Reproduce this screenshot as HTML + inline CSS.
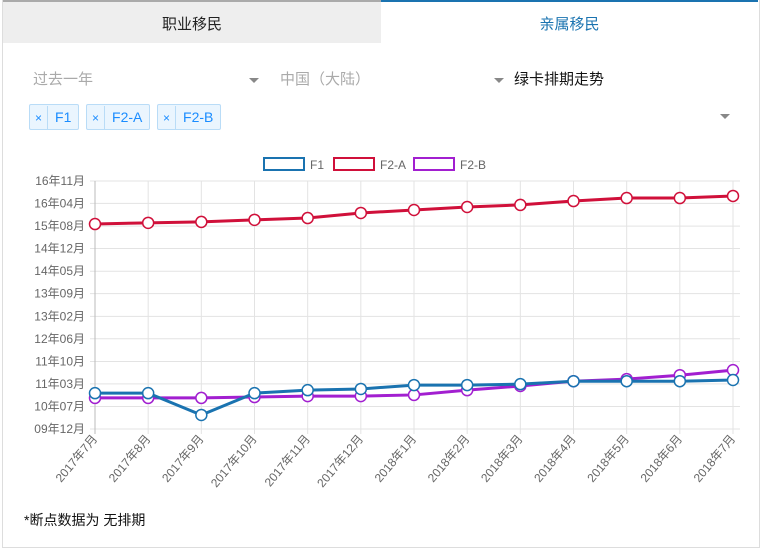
<!DOCTYPE html>
<html><head><meta charset="utf-8"><style>
body{margin:0;width:761px;height:550px;background:#fff;font-family:"Liberation Sans","Noto Sans CJK SC",sans-serif;overflow:hidden;position:relative}
.box{position:absolute;left:2px;top:0;width:756px;height:547px;border:1px solid #ddd;border-top:none}
.tab{position:absolute;top:0;height:43px;line-height:46px;text-align:center;font-size:15px}
.t1{left:3px;width:378px;background:#eee;border-top:2px solid #aaa;color:#222;box-sizing:border-box}
.t2{left:381px;width:377px;border-top:2px solid #1a73b0;color:#1a73b0;box-sizing:border-box}
.sel{position:absolute;top:68px;font-size:15px;color:#aaa}
.caret{position:absolute;width:0;height:0;border-left:5px solid transparent;border-right:5px solid transparent;border-top:5px solid #888}
.tag{position:absolute;top:104px;height:24px;border:1px solid #b9dcf7;background:#eaf5fe;color:#1a8cff;font-size:14px;line-height:24px;border-radius:2px}
.tag span{display:inline-block;padding:0 7px}
.tag .x{border-right:1px solid #b9dcf7;font-size:12px;padding:0 5px}
</style></head><body>
<div class="box"></div>
<div class="tab t1">职业移民</div>
<div class="tab t2">亲属移民</div>
<div class="sel" style="left:33px">过去一年</div>
<div class="caret" style="left:249px;top:78px"></div>
<div class="sel" style="left:280px">中国（大陆）</div>
<div class="caret" style="left:494px;top:78px"></div>
<div class="sel" style="left:514px;color:#111">绿卡排期走势</div>
<div class="tag" style="left:29px"><span class="x">×</span><span>F1</span></div>
<div class="tag" style="left:86px"><span class="x">×</span><span>F2-A</span></div>
<div class="tag" style="left:157px"><span class="x">×</span><span>F2-B</span></div>
<div class="caret" style="left:720px;top:114px"></div>
<div style="position:absolute;left:24px;top:510px;font-size:14px;color:#111">*断点数据为 无排期</div>
<svg id="chart" width="761" height="550" style="position:absolute;left:0;top:0"></svg>
<script>
const categories=["2017年7月","2017年8月","2017年9月","2017年10月","2017年11月","2017年12月","2018年1月","2018年2月","2018年3月","2018年4月","2018年5月","2018年6月","2018年7月"];
// values: months since 2009-12
const f1=[12,12,4.7,12,13,13.4,14.7,14.7,15,16,16,16,16.4];
const f2a=[68.6,69,69.3,70,70.6,72.3,73.3,74.3,75,76.3,77.3,77.3,78];
const f2b=[10.4,10.4,10.4,10.7,11,11,11.4,13,14.4,16,16.7,18,19.7];
const tickLabels=["09年12月","10年07月","11年03月","11年10月","12年06月","13年02月","13年09月","14年05月","14年12月","15年08月","16年04月","16年11月"];
const tickValues=[0,7.55,15.1,22.6,30.2,37.7,45.3,52.8,60.4,67.9,75.5,83];
const svg=document.getElementById('chart');const NS="http://www.w3.org/2000/svg";
const X0=95,X1=733,Y0=429,Y1=181,YMAX=83;
const xs=i=>X0+i*(X1-X0)/(categories.length-1);
const ys=v=>Y0-v*(Y0-Y1)/YMAX;
function mk(t,a){const e=document.createElementNS(NS,t);for(const k in a)e.setAttribute(k,a[k]);svg.appendChild(e);return e;}
tickValues.forEach((v,i)=>{
 const g=mk('line',{x1:90,x2:740,y1:ys(v),y2:ys(v),stroke:'#e3e3e3'});
 
 
 const t=mk('text',{x:85,y:ys(v)+4,'text-anchor':'end','font-size':12,fill:'#666'});
 t.textContent=tickLabels[i];
 
 
});
categories.forEach((c,i)=>{
 const g=mk('line',{x1:xs(i),x2:xs(i),y1:Y1,y2:Y0+5,stroke:i==0?'#bbb':'#e3e3e3'});
 
 
 const t=mk('text',{x:xs(i)+3,y:Y0+10,'text-anchor':'end','font-size':12,fill:'#666',transform:`rotate(-50 ${xs(i)+3} ${Y0+10})`});
 t.textContent=c;
 
 
});
const series=[["F2-A",f2a,"#d0103a"],["F2-B",f2b,"#a21fd0"],["F1",f1,"#1a73b0"]];
series.forEach(([n,d,c])=>{
 const p=mk('polyline',{points:d.map((v,i)=>xs(i)+','+ys(v)).join(' '),fill:'none',stroke:c,'stroke-width':3});
 
 
 d.forEach((v,i)=>{const q=mk('circle',{cx:xs(i),cy:ys(v),r:5.5,fill:'#fff',stroke:c,'stroke-width':1.5});
  
  });
});
const leg=[["F1","#1a73b0",264],["F2-A","#d0103a",334],["F2-B","#a21fd0",414]];
leg.forEach(([n,c,x])=>{
 const r=mk('rect',{x:x,y:158,width:40,height:12,fill:'#fff',stroke:c,'stroke-width':2});
 
 
 const t=mk('text',{x:x+46,y:169,'font-size':12,fill:'#666'});t.textContent=n;
 
 
});
</script>
</body></html>
